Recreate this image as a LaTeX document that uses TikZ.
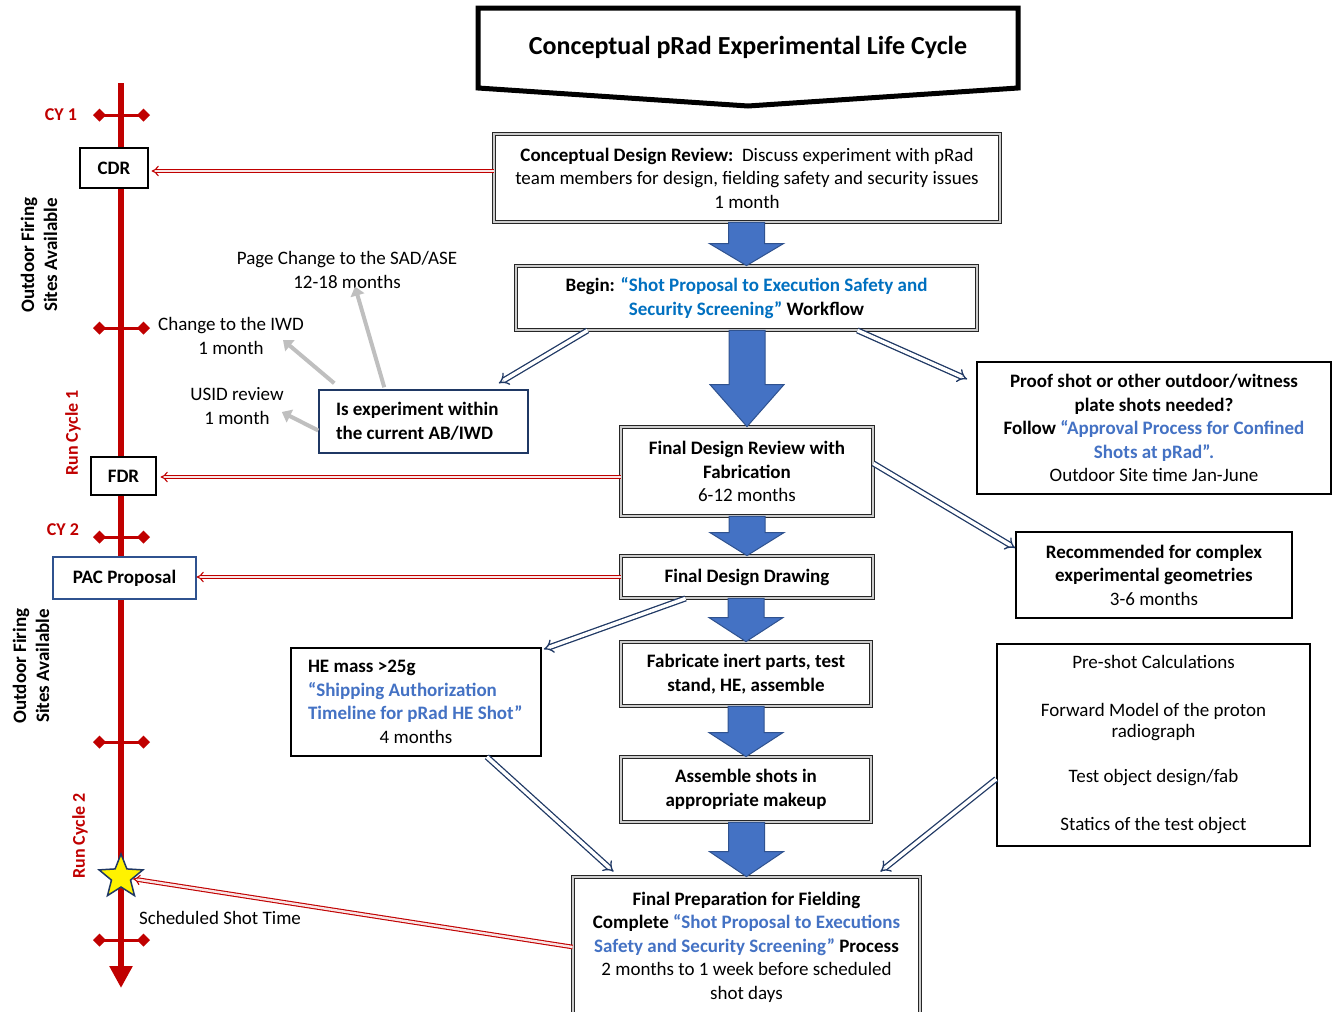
\documentclass[tikz,border=0pt]{standalone}
\usepackage{fontspec}
\setmainfont{Carlito}
\usetikzlibrary{arrows.meta,shapes.geometric,calc}
\definecolor{tlred}{HTML}{C00000}
\definecolor{navy}{HTML}{1F3864}
\definecolor{blkfill}{HTML}{4472C4}
\definecolor{blkline}{HTML}{2F528F}
\definecolor{linkA}{HTML}{0070C0}
\definecolor{linkB}{HTML}{4472C4}
\definecolor{grayarr}{HTML}{BFBFBF}
\newcommand\blockarr[3]{%
 \path[blockarrow] let \p1=(#2.south), \p2=(#3.north) in
 (\x2-18pt,\y1) -- (\x2+18pt,\y1) -- (\x2+18pt,\y2+#1) -- (\x2+37pt,\y2+#1) -- (\x2,\y2) -- (\x2-37pt,\y2+#1) -- (\x2-18pt,\y2+#1) -- cycle;}
\tikzset{
 txt/.style={font=\fontsize{19}{23.5}\selectfont, inner sep=0pt},
 btxt/.style={font=\fontsize{19}{23.5}\selectfont\bfseries},
 dbox/.style={txt, draw=black!85, double=black!20, line width=0.8pt, double distance=2pt, fill=white, align=center},
 sbox/.style={txt, draw=black, line width=1.6pt, fill=white, align=center},
 nbox/.style={txt, draw=navy, line width=1.5pt, fill=white, align=center},
 blockarrow/.style={fill=blkfill, draw=blkline, line width=1pt},
 redarr/.style={draw=tlred, double=tlred!10, double distance=2.4pt, line width=1.1pt, -{Implies[scale=1.6]}},
 navarr/.style={draw=navy, double=white, double distance=3.5pt, line width=1.3pt, -{Implies[scale=1.6]}},
 grayarrow/.style={draw=grayarr, line width=4pt, -{Triangle[length=9pt,width=14pt]}},
 tick/.style={draw=tlred, line width=3pt, {Diamond[length=13pt,width=13pt]}-{Diamond[length=13pt,width=13pt]}},
 redlbl/.style={font=\fontsize{18}{22}\selectfont\bfseries, text=tlred, inner sep=0pt},
 sidelbl/.style={font=\fontsize{19}{23}\selectfont\bfseries, inner sep=0pt, align=center, rotate=90},
}
\begin{document}
\begin{tikzpicture}[x=1pt,y=-1pt]
\useasboundingbox (0,0) rectangle (1336,1012);
% title
\coordinate (t1) at (478,8); \coordinate (t2) at (1018,8); \coordinate (t3) at (1018,88);
\coordinate (t4) at (748,106); \coordinate (t5) at (478,88);
\draw[line width=5pt, line join=miter, fill=white] (t1) -- (t2) -- (t3) -- (t4) -- (t5) -- cycle;
\node[font=\fontsize{26}{30}\selectfont\bfseries] (title) at (748,47) {Conceptual pRad Experimental Life Cycle};
% timeline
\coordinate (ttop) at (121,83); \coordinate (tbot) at (121,988);
\draw[tlred, line width=6pt, -{Triangle[length=22pt,width=22pt]}] (ttop) -- (tbot);
\foreach \yy in {115,328,537,742,940} \draw[tick] (93,\yy) -- (150,\yy);
\node[redlbl] (cy1) at (61,115) {CY 1};
\node[redlbl] (cy2) at (63,530) {CY 2};
\node[redlbl, rotate=90] (rc1) at (73,433) {Run Cycle 1};
\node[redlbl, rotate=90] (rc2) at (80,836) {Run Cycle 2};
\node[sidelbl] (ofs1) at (39,255) {Outdoor Firing\\Sites Available};
\node[sidelbl] (ofs2) at (31,666) {Outdoor Firing\\Sites Available};
\node[sbox, line width=1.3pt, minimum width=68, minimum height=40, btxt] (cdr) at (114,168) {CDR};
\node[sbox, line width=1.3pt, minimum width=65, minimum height=38, btxt] (fdrl) at (123.5,476) {FDR};
\node[nbox, line width=1.3pt, draw=blkline, minimum width=143, minimum height=42, btxt] (pac) at (124.5,578) {PAC Proposal};
\node[star, star points=5, star point ratio=2.3, minimum size=46, fill=yellow, draw=navy, line width=1.5pt, inner sep=0pt] (star) at (121,877) {};
\node[txt] (shotlbl) at (220,918) {Scheduled Shot Time};
% main flow boxes
\node[dbox, minimum width=506, minimum height=88] (cdrbox) at (747,178) {\textbf{Conceptual Design Review:}\ \ Discuss experiment with pRad\\team members for design, fielding safety and security issues\\1 month};
\node[dbox, minimum width=461, minimum height=64, btxt] (begin) at (746.5,298) {Begin: {\color{linkA}“Shot Proposal to Execution Safety and}\\{\color{linkA}Security Screening”} Workflow};
\node[dbox, minimum width=252, minimum height=89] (fdr) at (747,471.5) {\textbf{Final Design Review with}\\\textbf{Fabrication}\\6-12 months};
\node[dbox, minimum width=252, minimum height=42, btxt] (fdd) at (747,577) {Final Design Drawing};
\node[dbox, minimum width=250, minimum height=64, btxt] (fab) at (746,674) {Fabricate inert parts, test\\stand, HE, assemble};
\node[dbox, minimum width=250, minimum height=65, btxt] (asm) at (746,789.5) {Assemble shots in\\appropriate makeup};
\node[dbox, minimum width=347, minimum height=140] (fprep) at (746.5,947) {\textbf{Final Preparation for Fielding}\\\textbf{Complete {\color{linkB}“Shot Proposal to Executions}}\\\textbf{{\color{linkB}Safety and Security Screening”} Process}\\2 months to 1 week before scheduled\\shot days};
% side boxes
\node[sbox, minimum width=354, minimum height=132] (proof) at (1154,428) {\textbf{Proof shot or other outdoor/witness}\\\textbf{plate shots needed?}\\\textbf{Follow {\color{linkB}“Approval Process for Confined}}\\\textbf{\color{linkB}Shots at pRad”.}\\Outdoor Site time Jan-June};
\node[sbox, minimum width=276, minimum height=86] (rec) at (1154,575) {\textbf{Recommended for complex}\\\textbf{experimental geometries}\\3-6 months};
\node[sbox, minimum width=313, minimum height=202] (pre) at (1153.5,745) {Pre-shot Calculations\\[24.5pt]Forward Model of the proton\\[-2.5pt]radiograph\\[21.5pt]Test object design/fab\\[24.5pt]Statics of the test object};
\node[sbox, minimum width=250, minimum height=108, text width=216, inner xsep=17pt, align=flush left] (he) at (416,702) {\textbf{HE mass >25g}\\\textbf{\color{linkB}“Shipping Authorization}\\\textbf{\color{linkB}Timeline for pRad HE Shot”}\\\makebox[\linewidth]{4 months}};
\node[nbox, minimum width=209, minimum height=63, text width=175, inner xsep=17pt, align=flush left, btxt] (isexp) at (423.5,421.5) {Is experiment within\\the current AB/IWD};
% free labels
\node[txt, align=center] (pagelbl) at (347,270) {Page Change to the SAD/ASE\\12-18 months};
\node[txt, align=center] (iwdlbl) at (231,336) {Change to the IWD\\1 month};
\node[txt, align=center] (usidlbl) at (237,406) {USID review\\1 month};
\coordinate (iwdtip) at (283,340);
% block arrows
\blockarr{22pt}{cdrbox}{begin}
\blockarr{42pt}{begin}{fdr}
\blockarr{23pt}{fdr}{fdd}
\blockarr{24pt}{fdd}{fab}
\blockarr{24pt}{fab}{asm}
\blockarr{25pt}{asm}{fprep}
% navy double arrows
\draw[navarr] ([xshift=72pt]begin.south west) -- ([xshift=-30pt,yshift=6pt]isexp.north east);
\draw[navarr] ([xshift=-120pt]begin.south east) -- ([xshift=-9pt,yshift=-18pt]proof.north west);
\draw[navarr] ([yshift=8pt]fdr.east) -- ([yshift=27pt]rec.west);
\draw[navarr] ([xshift=65pt]fdd.south west) -- ([xshift=2pt,yshift=-2pt]he.north east);
\draw[navarr] ([xshift=-55pt]he.south east) -- ([xshift=41pt,yshift=5pt]fprep.north west);
\draw[navarr] ([yshift=-34pt]pre.west) -- ([xshift=-40pt,yshift=5pt]fprep.north east);
% red double arrows
\draw[redarr] ([yshift=7pt]cdrbox.west) -- ([xshift=3pt,yshift=-3pt]cdr.east);
\draw[redarr] ([yshift=-5.5pt]fdr.west) -- ([xshift=4pt,yshift=-1pt]fdrl.east);
\draw[redarr] (fdd.west) -- (fdd.west -| pac.east);
\draw[redarr] (fprep.west) -- (star);
% gray arrows
\draw[grayarrow] ([xshift=66pt,yshift=2pt]isexp.north west) -- ([xshift=8pt,yshift=2pt]pagelbl.south);
\draw[grayarrow] ([xshift=16pt,yshift=6pt]isexp.north west) -- (iwdtip);
\draw[grayarrow] ([yshift=-9pt]isexp.west) -- ([xshift=-2pt]usidlbl.east |- 0,412);
\end{tikzpicture}
\end{document}
